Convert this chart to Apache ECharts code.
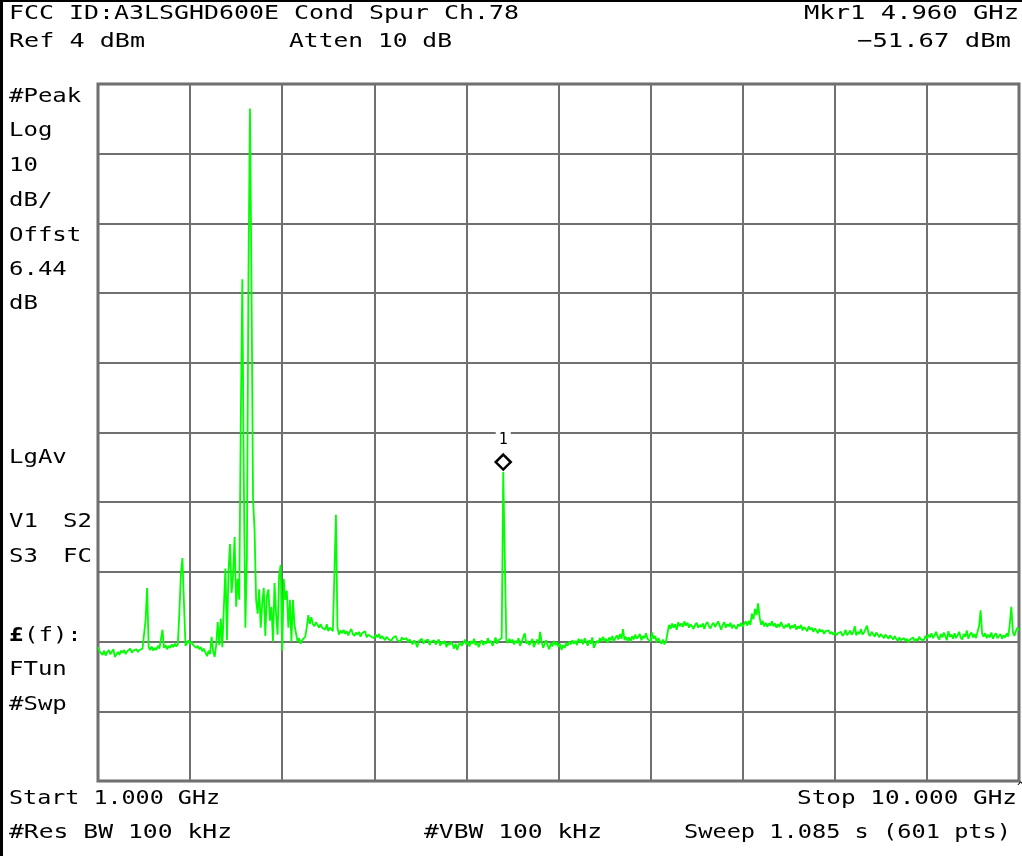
<!DOCTYPE html>
<html><head><meta charset="utf-8">
<script src="https://cdn.jsdelivr.net/npm/echarts@6/dist/echarts.min.js"></script>
<style>html,body{margin:0;padding:0;background:#fff}#c{width:1022px;height:856px}</style>
</head><body><div id="c"></div>
<script>
// Sweep settings (from the instrument annotation)
const startGHz = 1.0;
const stopGHz = 10.0;
const sweepPoints = 601;
const refLevelDbm = 4;
const dbPerDiv = 10;
const divisions = [0, 1, 2, 3, 4, 5, 6, 7, 8, 9, 10];

// Trace levels in dBm, one per sweep point
const levels = [
-76.8,-77.4,-77.6,-77.9,-77.3,-78.0,-77.5,-77.2,-77.8,-77.6,
-77.1,-78.2,-78.4,-77.5,-77.9,-77.3,-77.6,-77.2,-77.8,-77.4,
-77.5,-77.0,-77.6,-77.3,-77.4,-77.1,-77.5,-77.2,-77.4,-77.0,
-76.9,-72.9,-68.3,-76.8,-77.2,-76.7,-77.3,-76.9,-77.2,-76.6,
-77.0,-76.8,-74.3,-76.9,-76.5,-77.1,-76.6,-76.9,-76.4,-76.8,
-76.3,-76.7,-76.4,-71.9,-66.4,-64.0,-70.5,-76.6,-76.2,-75.8,
-76.4,-76.0,-76.5,-76.3,-76.9,-76.6,-77.1,-76.8,-77.4,-77.0,
-77.6,-78.1,-77.3,-77.8,-75.3,-77.4,-78.2,-76.5,-73.2,-76.5,
-72.7,-76.8,-71.0,-65.5,-75.8,-66.0,-62.0,-69.0,-66.5,-61.0,
-71.0,-67.0,-70.0,-45.0,-24.0,-53.0,-74.0,-64.0,-24.0,0.5,
-25.0,-55.5,-60.0,-70.0,-72.0,-68.5,-74.0,-70.5,-68.3,-75.2,
-69.5,-68.5,-73.0,-71.0,-76.0,-67.6,-72.0,-75.0,-66.5,-65.0,
-77.3,-67.0,-70.0,-68.7,-74.0,-70.0,-76.0,-70.0,-73.6,-74.8,
-76.0,-75.5,-76.3,-75.8,-76.0,-75.3,-74.0,-72.2,-73.5,-72.5,
-73.5,-73.8,-73.2,-73.6,-74.0,-73.5,-74.0,-73.8,-74.3,-73.5,
-74.5,-74.0,-73.8,-74.5,-66.4,-57.8,-74.0,-75.0,-74.4,-74.8,
-74.3,-74.9,-74.5,-75.1,-74.6,-74.2,-74.9,-75.2,-74.7,-75.0,
-74.6,-75.3,-74.8,-75.0,-74.5,-75.4,-75.0,-74.8,-75.3,-75.1,
-75.5,-75.0,-75.4,-74.9,-75.6,-75.2,-75.5,-75.8,-75.3,-75.6,
-75.4,-75.9,-75.5,-75.7,-75.2,-75.8,-75.6,-76.0,-75.4,-75.7,
-75.9,-75.5,-76.1,-75.7,-75.9,-76.4,-75.8,-76.2,-76.8,-75.9,
-76.0,-75.6,-76.3,-75.9,-76.1,-75.7,-76.5,-76.0,-76.2,-75.8,
-76.4,-76.1,-75.7,-76.6,-76.0,-76.3,-75.9,-76.8,-76.2,-76.5,
-76.0,-76.4,-77.0,-76.3,-77.2,-76.5,-76.1,-76.6,-76.2,-75.7,
-76.4,-76.0,-76.7,-75.9,-76.3,-75.6,-76.5,-76.1,-76.8,-76.2,
-75.8,-76.5,-76.0,-76.3,-75.5,-76.2,-75.9,-76.6,-76.1,-75.4,
-76.3,-75.8,-76.0,-75.5,-51.67,-63.8,-75.8,-76.2,-75.6,-76.1,
-75.7,-76.4,-75.9,-76.2,-75.5,-76.6,-76.0,-75.8,-74.8,-76.3,
-75.9,-76.5,-76.1,-75.6,-76.8,-76.2,-75.7,-76.4,-74.6,-76.0,
-76.9,-76.3,-75.8,-76.6,-77.1,-76.2,-76.7,-75.9,-76.5,-76.1,
-76.8,-76.3,-77.2,-76.5,-76.9,-76.2,-76.6,-76.0,-76.4,-75.8,
-76.3,-75.9,-76.5,-75.6,-76.1,-75.7,-76.4,-75.5,-76.0,-76.6,
-75.8,-76.3,-75.4,-76.9,-77.0,-75.9,-76.2,-75.5,-76.0,-75.3,
-75.9,-75.6,-76.2,-75.4,-75.8,-75.2,-76.0,-75.5,-75.1,-75.7,
-74.9,-75.6,-74.2,-75.8,-75.3,-75.9,-75.4,-76.0,-75.2,-75.7,
-75.0,-75.6,-75.3,-74.9,-75.8,-75.2,-75.5,-74.8,-75.6,-75.4,
-76.0,-74.7,-75.6,-75.2,-76.1,-75.5,-75.9,-76.3,-75.7,-76.4,
-76.0,-74.8,-73.6,-74.2,-73.4,-74.0,-73.5,-74.3,-73.2,-73.8,
-73.4,-73.9,-73.1,-73.7,-73.3,-74.0,-73.5,-73.8,-74.2,-73.6,
-73.3,-74.0,-73.6,-73.9,-73.4,-74.2,-73.5,-73.2,-73.8,-74.1,
-73.6,-73.3,-73.9,-73.5,-73.1,-73.7,-74.3,-73.6,-73.2,-74.0,
-73.5,-73.8,-73.3,-74.1,-73.6,-73.9,-74.2,-73.5,-73.8,-73.3,
-73.9,-73.4,-73.1,-73.7,-73.0,-73.6,-72.0,-72.8,-71.3,-72.2,
-70.5,-72.5,-73.6,-73.0,-73.8,-73.3,-73.9,-73.4,-73.7,-73.1,
-73.8,-73.4,-74.0,-73.5,-73.9,-73.2,-73.7,-74.1,-73.6,-73.9,
-73.4,-74.2,-73.7,-74.0,-73.5,-74.3,-73.8,-74.1,-73.6,-74.4,
-73.9,-74.2,-74.5,-73.8,-74.3,-74.0,-74.6,-74.1,-74.4,-74.8,
-74.2,-74.6,-74.3,-74.9,-74.5,-74.7,-74.4,-74.9,-74.6,-75.0,
-74.7,-75.1,-74.8,-75.0,-74.6,-75.2,-74.9,-74.3,-75.1,-74.8,
-74.4,-75.0,-74.7,-73.8,-75.1,-74.6,-74.9,-74.2,-75.0,-74.7,
-74.5,-73.7,-74.9,-75.2,-74.6,-74.8,-75.3,-74.7,-75.0,-75.4,
-74.9,-75.2,-75.5,-75.0,-75.3,-75.6,-75.1,-75.4,-75.7,-75.2,
-75.6,-75.9,-75.4,-75.8,-76.0,-75.5,-75.9,-75.6,-76.1,-75.7,
-75.8,-75.4,-76.0,-75.6,-75.9,-75.3,-75.7,-75.5,-75.8,-75.2,
-75.6,-75.0,-75.4,-74.8,-75.5,-75.1,-74.6,-75.3,-75.7,-74.9,
-75.4,-74.7,-75.2,-75.8,-74.5,-75.3,-75.0,-75.6,-74.8,-75.5,
-75.1,-74.6,-75.4,-75.7,-74.9,-75.3,-74.4,-75.6,-75.0,-74.7,
-75.4,-74.9,-75.5,-74.6,-73.8,-71.5,-74.9,-75.3,-74.8,-75.5,
-75.0,-75.4,-74.7,-75.6,-75.1,-74.8,-75.5,-75.2,-74.9,-75.6,
-75.1,-75.4,-74.8,-75.3,-73.5,-71.0,-74.6,-75.2,-74.5,-74.0,
-74.4
];

const markerFreqGHz = 4.96;
const markerLevelDbm = -51.67;
const markerName = '1';

// Annotation texts
const headerTexts = ['FCC ID:A3LSGHD600E Cond Spur Ch.78', 'Mkr1 4.960 GHz', 'Ref 4 dBm', 'Atten 10 dB', '\u221251.67 dBm'];
const sideTexts = ['#Peak', 'Log', '10', 'dB/', 'Offst', '6.44', 'dB', 'LgAv', 'V1', 'S2', 'S3', 'FC', '(f):', 'FTun', '#Swp'];
const footerTexts = ['Start 1.000 GHz', 'Stop 10.000 GHz', '#Res BW 100 kHz', '#VBW 100 kHz', 'Sweep 1.085 s (601 pts)'];

const step = (stopGHz - startGHz) / (sweepPoints - 1);
const traceData = levels.map((v, i) => [startGHz + i * step, v]);
const bottomDbm = refLevelDbm - dbPerDiv * (divisions.length - 1);

const FONT = 'DejaVu Sans Mono';
const ADV = 12.04; // advance width of the 20px mono font
function txt(s, x, y, align, width) {
  const sx = width ? (width + 2) / (s.length * ADV) : 1.2;
  return {
    type: 'text', x: x, y: y, scaleX: sx, scaleY: 1, z: 10,
    style: { text: s, fill: '#000', font: '20px "' + FONT + '"', textAlign: align || 'left', textVerticalAlign: 'middle' }
  };
}
const graphics = [
  { type: 'rect', shape: { x: 0, y: 0, width: 1022, height: 2 }, style: { fill: '#000' }, z: 20 },
  { type: 'rect', shape: { x: 0, y: 0, width: 3, height: 856 }, style: { fill: '#000' }, z: 20 },
  txt(headerTexts[0], 9, 14, 'left', 508),
  txt(headerTexts[1], 1019, 14, 'right', 213),
  txt(headerTexts[2], 9, 42, 'left', 134),
  txt(headerTexts[3], 289, 42, 'left', 161),
  txt(headerTexts[4], 1011, 42, 'right', 152),
  txt(footerTexts[0], 9, 799, 'left', 209),
  txt(footerTexts[1], 1017, 799, 'right', 218),
  { type: 'text', x: 1017, y: 788, z: 10, style: { text: '^', fill: '#000', font: '12px "' + FONT + '"', textAlign: 'left', textVerticalAlign: 'middle' } },
  txt(footerTexts[2], 9, 833, 'left', 221),
  txt(footerTexts[3], 424, 833, 'left', 176),
  txt(footerTexts[4], 1011, 833, 'right', 325),
  { type: 'text', x: 9, y: 636, scaleX: 1.2, z: 10, style: { text: '\u00A3', fill: '#000', font: 'bold 20px "' + FONT + '"', textAlign: 'left', textVerticalAlign: 'middle' } }
];
const sidePos = [[9, 97], [9, 131], [9, 166], [9, 201], [9, 236], [9, 270], [9, 304], [9, 458],
                 [9, 522], [63, 522], [9, 557], [63, 557], [24, 636], [9, 670], [9, 705]];
sideTexts.forEach((s, k) => { graphics.push(txt(s, sidePos[k][0], sidePos[k][1])); });

const chart = echarts.init(document.getElementById('c'), null, { renderer: 'canvas' });
chart.setOption({
  backgroundColor: '#ffffff',
  animation: false,
  grid: { left: 98, top: 84, right: 3, bottom: 75, show: true, borderColor: '#6a6a6a', borderWidth: 3, backgroundColor: 'transparent' },
  xAxis: [
    { type: 'value', min: startGHz, max: stopGHz, show: false, splitLine: { show: false } },
    { type: 'value', min: 0, max: 10, interval: 1, position: 'bottom',
      axisLine: { show: false }, axisTick: { show: false }, axisLabel: { show: false },
      splitLine: { show: true, lineStyle: { color: '#707070', width: 2 } } }
  ],
  yAxis: [
    { type: 'value', min: bottomDbm, max: refLevelDbm, show: false, splitLine: { show: false } },
    { type: 'value', min: 0, max: 10, interval: 1,
      axisLine: { show: false }, axisTick: { show: false }, axisLabel: { show: false },
      splitLine: { show: true, lineStyle: { color: '#707070', width: 2 } } }
  ],
  graphic: graphics,
  series: [{
    type: 'line', xAxisIndex: 0, yAxisIndex: 0,
    data: traceData, showSymbol: false, symbol: 'none',
    lineStyle: { color: '#00ff00', width: 1.8 },
    z: 5,
    markPoint: {
      silent: true,
      data: [
        { coord: [markerFreqGHz, markerLevelDbm], symbol: 'diamond', symbolSize: [15, 15], symbolOffset: [0, -10],
          itemStyle: { color: '#ffffff', borderColor: '#000000', borderWidth: 2.5 }, label: { show: false } },
        { coord: [markerFreqGHz, markerLevelDbm], symbol: 'rect', symbolSize: [1, 1],
          itemStyle: { color: 'transparent' },
          label: { show: true, formatter: markerName, position: 'inside', offset: [0, -32],
            color: '#000', fontFamily: FONT, fontSize: 15, backgroundColor: '#fff', padding: [1, 3, 0, 3] } }
      ]
    }
  }]
});
</script></body></html>
